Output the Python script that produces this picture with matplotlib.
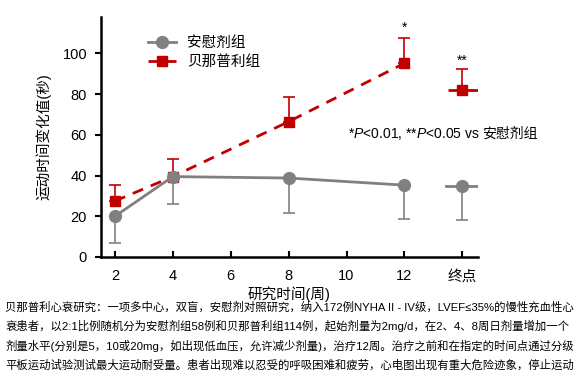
import matplotlib
matplotlib.use('Agg')
import matplotlib.pyplot as plt

plt.rcParams['font.family'] = ['Liberation Sans', 'Noto Sans CJK SC']
plt.rcParams['mathtext.fontset'] = 'custom'
plt.rcParams['mathtext.it'] = 'Liberation Sans:italic'
plt.rcParams['mathtext.rm'] = 'Liberation Sans'

# 数据
weeks = [2, 4, 8, 12]
end_x = 14
xtick_pos = [2, 4, 6, 8, 10, 12, 14]
xtick_labels = ['2', '4', '6', '8', '10', '12', '终点']

placebo = [20, 39.5, 38.8, 35.3]
placebo_err = [13, 13.5, 17.3, 16.8]      # 只画下误差
placebo_end = 35
placebo_end_err = 16.8

bena = [27.5, 39.5, 66.5, 95.2]
bena_err = [8, 8.7, 12.3, 12.3]           # 只画上误差
bena_end = 82
bena_end_err = 10.5

caption = [
    '贝那普利心衰研究：一项多中心，双盲，安慰剂对照研究，纳入172例NYHA II - IV级，LVEF≤35%的慢性充血性心',
    '衰患者，以2:1比例随机分为安慰剂组58例和贝那普利组114例，起始剂量为2mg/d，在2、4、8周日剂量增加一个',
    '剂量水平(分别是5，10或20mg，如出现低血压，允许减少剂量)，治疗12周。治疗之前和在指定的时间点通过分级',
    '平板运动试验测试最大运动耐受量。患者出现难以忍受的呼吸困难和疲劳，心电图出现有重大危险迹象，停止运动',
]

gray = '#808080'
red = '#C00000'

fig = plt.figure(figsize=(5.83, 3.83), dpi=100)
ax = fig.add_axes([0.1732, 0.329, 0.6462, 0.627])

# 贝那普利组
ax.errorbar(weeks, bena, yerr=[[0] * 4, bena_err], fmt='none', ecolor=red,
            elinewidth=1.2, capsize=4.5, capthick=1.2, zorder=2)
ax.plot(weeks, bena, color=red, ls=(0, (4, 3)), lw=2, marker='s', ms=7,
        mfc=red, mec=red, label='贝那普利组', zorder=3)
ax.errorbar([end_x], [bena_end], yerr=[[0], [bena_end_err]], fmt='none', ecolor=red,
            elinewidth=1.2, capsize=4.5, capthick=1.2, zorder=2)
ax.plot([end_x - 0.5, end_x + 0.7], [bena_end, bena_end], color=red, ls=(0, (4, 3)), lw=2, zorder=3)
ax.plot([end_x], [bena_end], color=red, marker='s', ms=7, ls='none', zorder=4)

# 安慰剂组
ax.errorbar(weeks, placebo, yerr=[placebo_err, [0] * 4], fmt='none', ecolor=gray,
            elinewidth=1.2, capsize=4.5, capthick=1.2, zorder=4)
ax.plot(weeks, placebo, color=gray, lw=2, marker='o', ms=8.5, label='安慰剂组', zorder=5)
ax.errorbar([end_x], [placebo_end], yerr=[[placebo_end_err], [0]], fmt='none', ecolor=gray,
            elinewidth=1.2, capsize=4.5, capthick=1.2, zorder=4)
ax.plot([end_x - 0.55, end_x + 0.65], [placebo_end, placebo_end], color=gray, lw=2, zorder=5)
ax.plot([end_x], [placebo_end], color=gray, marker='o', ms=8.5, ls='none', zorder=6)

# 显著性
ax.text(12, 112.5, '*', ha='center', va='center', fontsize=10)
ax.text(end_x, 96.5, '**', ha='center', va='center', fontsize=10)
t1 = ax.text(10.05, 60.5, r'*$\it{P}$<0.01, **$\it{P}$<0.05 vs', ha='left', va='center',
             fontsize=10, clip_on=False)
ax.annotate('安慰剂组', xy=(1, 0.5), xycoords=t1, xytext=(1.5, 0), textcoords='offset points',
            ha='left', va='center', fontsize=10, annotation_clip=False)

ax.set_xlim(1.52, 14.53)
ax.set_ylim(0, 118)
ax.set_xticks(xtick_pos)
ax.set_xticklabels(xtick_labels, fontsize=10.5)
ax.set_yticks([0, 20, 40, 60, 80, 100])
ax.tick_params(axis='y', labelsize=10.5, direction='out', length=4, width=1.5, pad=6)
ax.tick_params(axis='x', direction='in', length=4, width=1.5, pad=9)
for s in ['top', 'right']:
    ax.spines[s].set_visible(False)
for s in ['left', 'bottom']:
    ax.spines[s].set_linewidth(1.8)

ax.set_ylabel('运动时间变化值(秒)', fontsize=10.5, labelpad=8)
ax.set_xlabel('研究时间(周)', fontsize=10.5, labelpad=2)

handles, labels = ax.get_legend_handles_labels()
ax.legend(handles[::-1], labels[::-1], loc='upper left', bbox_to_anchor=(0.09, 0.975),
          frameon=False, fontsize=10.5, handlelength=1.9, handletextpad=0.8, labelspacing=0.35)

for i, line in enumerate(caption):
    fig.text(0.009, 1 - (307 + 19.3 * i) / 383, line, fontsize=8.2, ha='left', va='center')

fig.savefig('out.png', dpi=100)
